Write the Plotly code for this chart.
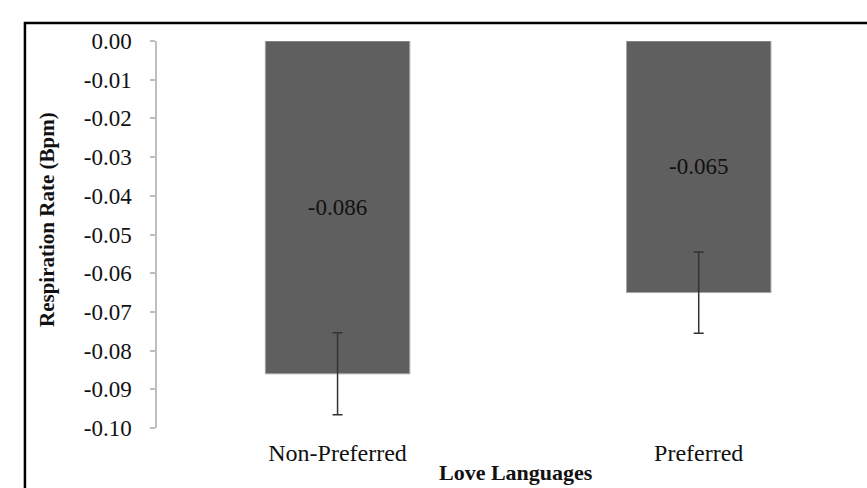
import plotly.graph_objects as go

# Mean change in respiration rate by love-language condition
categories = ["Non-Preferred", "Preferred"]
mean_change = [-0.086, -0.065]
std_error = [0.0106, 0.0105]
value_labels = ["-0.086", "-0.065"]

y_ticks = [0.00, -0.01, -0.02, -0.03, -0.04, -0.05, -0.06, -0.07, -0.08, -0.09, -0.10]
y_tick_text = ["0.00", "-0.01", "-0.02", "-0.03", "-0.04", "-0.05",
               "-0.06", "-0.07", "-0.08", "-0.09", "-0.10"]

SERIF = "Times New Roman, Liberation Serif, serif"
AXIS_GREY = "#bfbfbf"
x_range = [-0.5, 1.466]

fig = go.Figure()
fig.add_trace(go.Bar(
    x=list(range(len(categories))),
    y=mean_change,
    width=0.4,
    marker=dict(color="#5f5f5f", line=dict(color="#a8a8a8", width=1)),
    error_y=dict(type="data", array=std_error, visible=True,
                 color="#333333", thickness=1.5, width=5),
    text=value_labels,
    textposition="inside",
    insidetextanchor="middle",
    textfont=dict(family=SERIF, size=23, color="#111111"),
    hoverinfo="skip",
    showlegend=False,
))

fig.update_layout(
    width=867,
    height=488,
    margin=dict(l=157, r=0, t=41, b=60),
    paper_bgcolor="white",
    plot_bgcolor="white",
    font=dict(family=SERIF, size=22, color="#111111"),
    xaxis=dict(
        range=x_range,
        tickvals=list(range(len(categories))),
        ticktext=categories,
        showline=False,
        showgrid=False,
        zeroline=False,
        ticks="",
        ticklabelstandoff=8,
        tickfont=dict(family=SERIF, size=24, color="#111111"),
    ),
    # category axis drawn along the zero line, with a divider tick between groups
    xaxis2=dict(
        overlaying="x",
        anchor="y",
        side="top",
        range=x_range,
        tickvals=[0.5],
        showticklabels=False,
        ticks="inside",
        ticklen=6,
        tickwidth=1.5,
        tickcolor=AXIS_GREY,
        showline=True,
        linecolor=AXIS_GREY,
        linewidth=1.5,
        showgrid=False,
        zeroline=False,
    ),
    yaxis=dict(
        range=[-0.10, 0.00],
        tickvals=y_ticks,
        ticktext=y_tick_text,
        showline=True,
        linecolor=AXIS_GREY,
        linewidth=1.5,
        ticks="outside",
        ticklen=5,
        tickwidth=1.5,
        tickcolor=AXIS_GREY,
        showgrid=False,
        zeroline=False,
        ticklabelstandoff=14,
        tickfont=dict(family=SERIF, size=23, color="#111111"),
    ),
    annotations=[
        dict(text="<b>Respiration Rate (Bpm)</b>", textangle=-90,
             xref="paper", yref="paper", x=-0.155, y=0.54,
             xanchor="center", yanchor="middle", showarrow=False,
             font=dict(family=SERIF, size=21, color="#111111")),
        dict(text="<b>Love Languages</b>",
             xref="paper", yref="paper", x=0.5056, y=-0.152,
             xanchor="center", yanchor="bottom", showarrow=False,
             font=dict(family=SERIF, size=22, color="#111111")),
    ],
    shapes=[
        # outer chart frame
        dict(type="rect", xref="paper", yref="paper",
             x0=-0.186, x1=1.5, y0=-0.5, y1=1.0465,
             line=dict(color="black", width=2.5), fillcolor="rgba(0,0,0,0)",
             layer="above"),
    ],
)

fig.write_html("out.html")
